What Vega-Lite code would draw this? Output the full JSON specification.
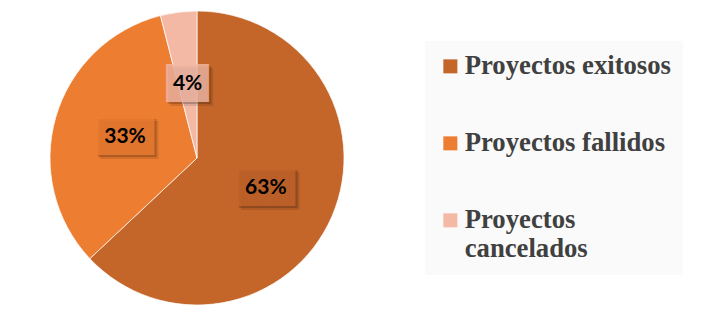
{
  "$schema": "https://vega.github.io/schema/vega-lite/v6.json",
  "width": 394,
  "height": 316,
  "autosize": {"type": "none"},
  "padding": {"left": 0, "top": 0, "right": 309, "bottom": 8},
  "background": "white",
  "config": {"view": {"stroke": null}},
  "data": {
    "values": [
      {"categoria": "Proyectos exitosos", "valor": 63, "orden": 1, "etiqueta": "63%"},
      {"categoria": "Proyectos fallidos", "valor": 33, "orden": 2, "etiqueta": "33%"},
      {"categoria": "Proyectos cancelados", "valor": 4, "orden": 3, "etiqueta": "4%"}
    ]
  },
  "transform": [
    {"calculate": "length(datum.etiqueta) > 2 ? '███' : '▕██▏'", "as": "caja"}
  ],
  "encoding": {
    "theta": {"field": "valor", "type": "quantitative", "stack": true},
    "order": {"field": "orden", "type": "quantitative"}
  },
  "layer": [
    {
      "mark": {"type": "arc", "outerRadius": 147, "stroke": "white", "strokeWidth": 0.7},
      "encoding": {
        "color": {
          "field": "categoria",
          "type": "nominal",
          "sort": ["Proyectos exitosos", "Proyectos fallidos", "Proyectos cancelados"],
          "scale": {
            "domain": ["Proyectos exitosos", "Proyectos fallidos", "Proyectos cancelados"],
            "range": ["#C4652A", "#ED7D31", "#F4B9A5"]
          },
          "legend": {
            "title": null,
            "orient": "none",
            "legendX": 425,
            "legendY": 41,
            "fillColor": "#FAFAFA",
            "padding": 12,
            "symbolType": "square",
            "symbolSize": 196,
            "symbolStrokeWidth": 0,
            "labelFont": "Liberation Serif",
            "labelFontSize": 26.7,
            "labelFontWeight": "bold",
            "labelColor": "#404040",
            "labelOffset": 1,
            "labelLimit": 400,
            "labelBaseline": "middle",
            "rowPadding": 49,
            "labelExpr": "datum.label == 'Proyectos cancelados' ? ['Proyectos', 'cancelados'] : datum.label",
            "encode": {"labels": {"update": {"lineHeight": {"value": 30}}}}
          }
        }
      }
    },
    {
      "mark": {"type": "text", "radius": 75, "font": "DejaVu Sans Mono", "fontSize": 32, "baseline": "middle", "color": "#000000", "opacity": 0.1, "dx": 4, "dy": 4},
      "encoding": {"text": {"field": "caja", "type": "nominal"}}
    },
    {
      "mark": {"type": "text", "radius": 75, "font": "DejaVu Sans Mono", "fontSize": 32, "baseline": "middle", "color": "#000000", "opacity": 0.18, "dx": 2, "dy": 2},
      "encoding": {"text": {"field": "caja", "type": "nominal"}}
    },
    {
      "mark": {"type": "text", "radius": 75, "font": "DejaVu Sans Mono", "fontSize": 32, "baseline": "middle", "opacity": 0.8},
      "encoding": {
        "text": {"field": "caja", "type": "nominal"},
        "color": {"field": "categoria", "type": "nominal", "legend": null}
      }
    },
    {
      "mark": {"type": "text", "radius": 75, "font": "Lato", "fontWeight": "bold", "fontSize": 21, "baseline": "middle", "color": "#000000"},
      "encoding": {"text": {"field": "etiqueta", "type": "nominal"}}
    }
  ]
}
